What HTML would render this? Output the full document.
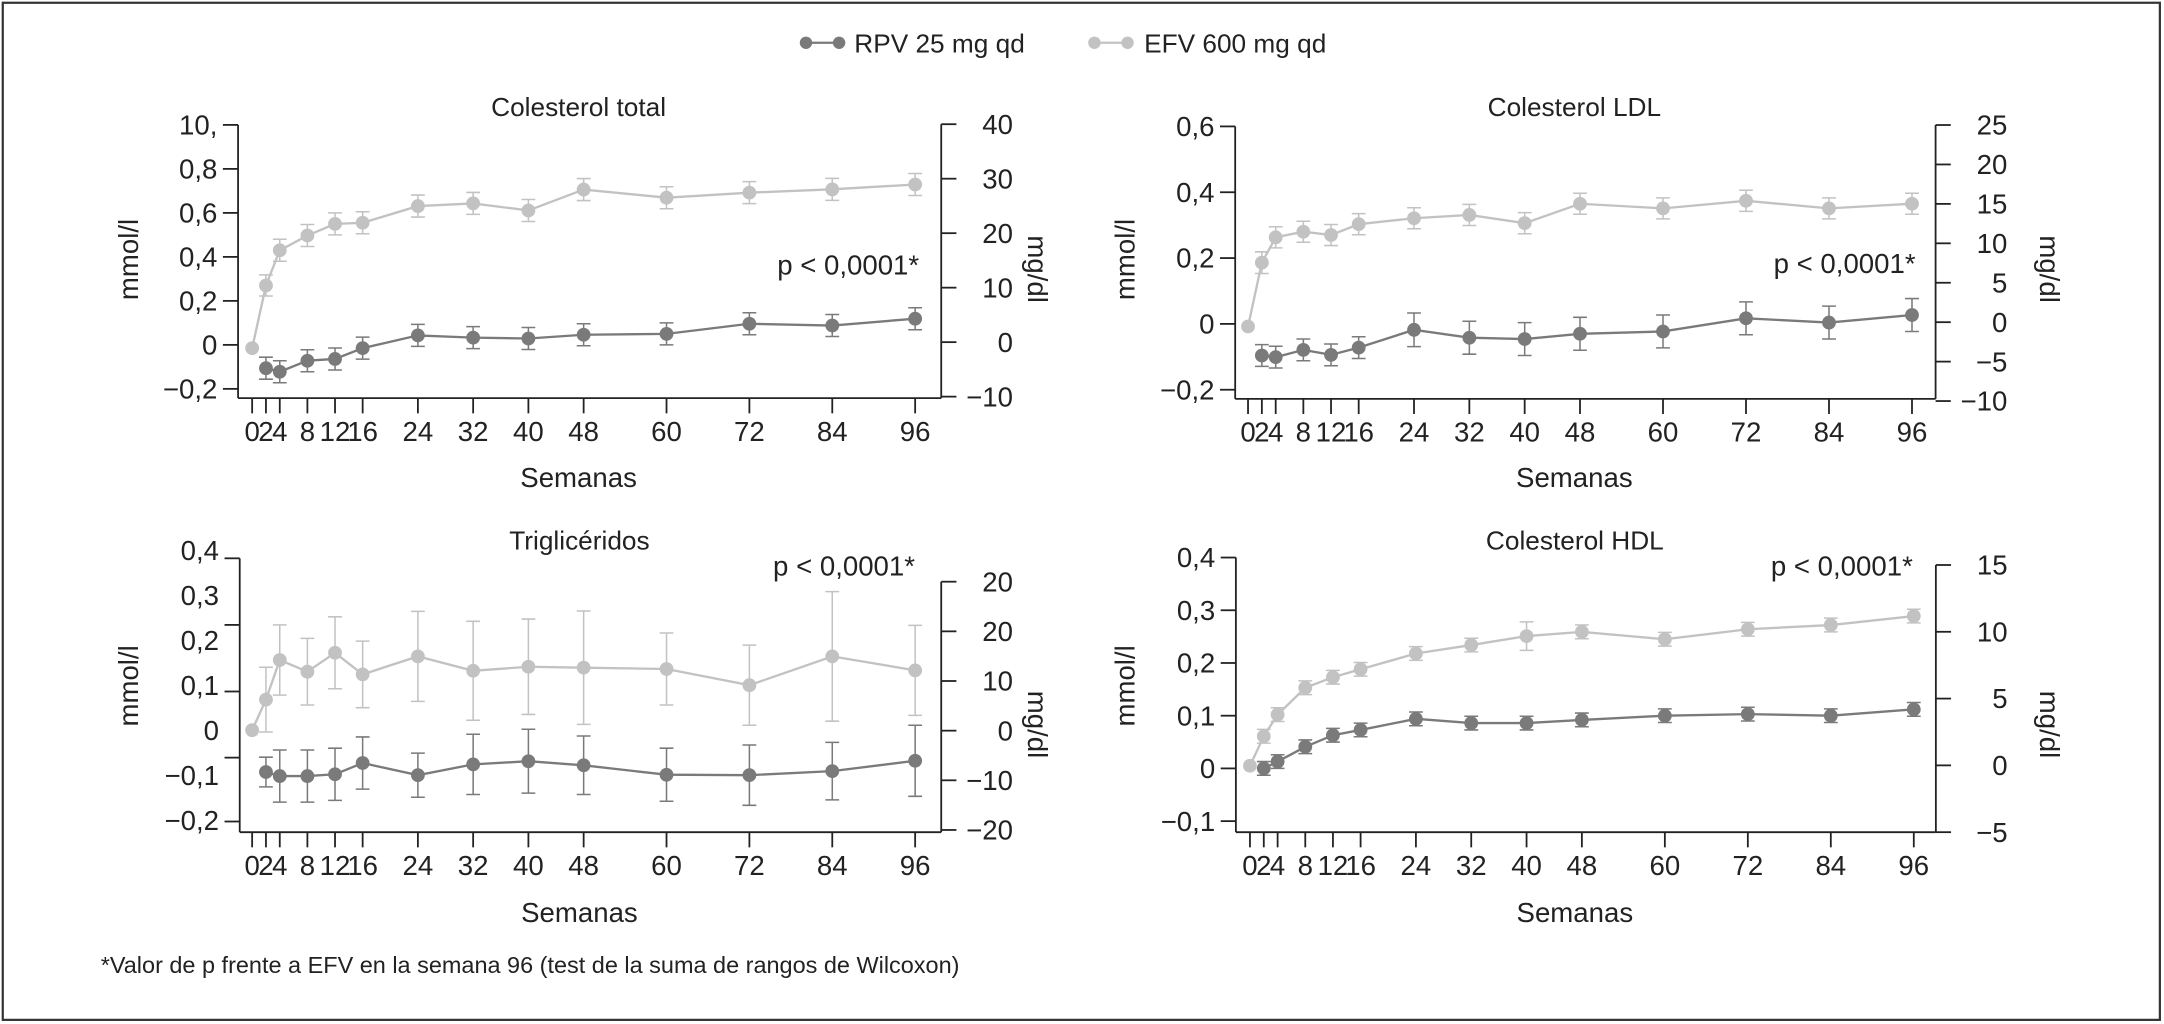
<!DOCTYPE html>
<html><head><meta charset="utf-8"><style>
html,body{margin:0;padding:0;background:#fff;}
svg{display:block;font-family:"Liberation Sans Narrow","Liberation Sans",sans-serif;}
</style></head><body>
<svg id="chart" width="2164" height="1024" viewBox="0 0 1568 742" preserveAspectRatio="none" xmlns="http://www.w3.org/2000/svg">
<rect x="2" y="2" width="1563" height="737" fill="#fff" stroke="#333" stroke-width="1.6"/>
<g>
 <g>
  <line x1="584" y1="31" x2="608" y2="31" stroke="#7a7a7a" stroke-width="1.6"/>
  <circle cx="584" cy="31" r="4.5" fill="#7a7a7a"/><circle cx="608" cy="31" r="4.5" fill="#7a7a7a"/>
  <text x="619" y="38" font-size="19" fill="#222">RPV 25 mg qd</text>
 </g>
 <g>
  <line x1="793" y1="31" x2="817" y2="31" stroke="#c2c2c2" stroke-width="1.6"/>
  <circle cx="793" cy="31" r="4.5" fill="#c2c2c2"/><circle cx="817" cy="31" r="4.5" fill="#c2c2c2"/>
  <text x="829" y="38" font-size="19" fill="#222">EFV 600 mg qd</text>
 </g>
</g>
<text x="73" y="705" font-size="17" fill="#222">*Valor de p frente a EFV en la semana 96 (test de la suma de rangos de Wilcoxon)</text>
</svg>
<script>
const weeks = [0,2,4,8,12,16,24,32,40,48,60,72,84,96];
const weeksRPV = [2,4,8,12,16,24,32,40,48,60,72,84,96];
const weekTickLabels = ["0","2","4","8","12","16","24","32","40","48","60","72","84","96"];

const tcEFV = [-0.015,0.27,0.43,0.497,0.55,0.555,0.631,0.643,0.611,0.706,0.669,0.692,0.707,0.729];
const tcEFVerr = [0,0.048,0.05,0.05,0.05,0.05,0.05,0.05,0.05,0.05,0.05,0.05,0.05,0.05];
const tcRPV = [-0.106,-0.122,-0.072,-0.064,-0.015,0.043,0.033,0.029,0.046,0.05,0.096,0.088,0.119];
const tcRPVerr = [0.05,0.05,0.05,0.05,0.05,0.05,0.05,0.05,0.05,0.05,0.05,0.05,0.05];

const ldlEFV = [-0.008,0.186,0.263,0.28,0.27,0.303,0.321,0.331,0.306,0.365,0.351,0.374,0.351,0.365];
const ldlEFVerr = [0,0.033,0.032,0.032,0.032,0.032,0.032,0.032,0.032,0.032,0.032,0.032,0.032,0.032];
const ldlRPV = [-0.096,-0.101,-0.079,-0.094,-0.072,-0.018,-0.042,-0.046,-0.03,-0.023,0.017,0.004,0.027];
const ldlRPVerr = [0.033,0.033,0.033,0.033,0.033,0.051,0.05,0.05,0.05,0.05,0.05,0.05,0.05];

const tgEFV = [0,0.068,0.156,0.13,0.172,0.124,0.164,0.132,0.141,0.139,0.136,0.1,0.164,0.133];
const tgEFVerr = [0,0.072,0.078,0.074,0.08,0.074,0.1,0.11,0.106,0.126,0.08,0.089,0.144,0.1];
const tgRPV = [-0.093,-0.102,-0.102,-0.098,-0.073,-0.1,-0.076,-0.069,-0.078,-0.099,-0.1,-0.091,-0.068];
const tgRPVerr = [0.033,0.058,0.058,0.058,0.058,0.049,0.067,0.071,0.065,0.059,0.067,0.064,0.079];

const hdlEFV = [0.005,0.061,0.102,0.153,0.173,0.188,0.218,0.234,0.251,0.259,0.245,0.264,0.272,0.289];
const hdlEFVerr = [0,0.013,0.013,0.013,0.013,0.013,0.013,0.013,0.027,0.013,0.013,0.013,0.013,0.013];
const hdlRPV = [0,0.013,0.041,0.063,0.073,0.094,0.086,0.086,0.092,0.1,0.103,0.1,0.112];
const hdlRPVerr = [0.013,0.013,0.013,0.013,0.013,0.013,0.013,0.013,0.013,0.013,0.013,0.013,0.013];

const tcLeftVals = [1.0,0.8,0.6,0.4,0.2,0,-0.2];
const tcLeftLabels = ["10,","0,8","0,6","0,4","0,2","0","\u22120,2"];
const tcRightLabels = ["40","30","20","10","0","\u221210"];
const ldlLeftVals = [0.6,0.4,0.2,0,-0.2];
const ldlLeftLabels = ["0,6","0,4","0,2","0","\u22120,2"];
const ldlRightLabels = ["25","20","15","10","5","0","\u22125","\u221210"];
const tgLeftTickVals = [0.382,0.234,0.086,-0.061,-0.203];
const tgLeftVals = [0.4,0.3,0.2,0.1,0,-0.1,-0.2];
const tgLeftLabels = ["0,4","0,3","0,2","0,1","0","\u22120,1","\u22120,2"];
const tgRightLabels = ["20","20","10","0","\u221210","\u221220"];
const hdlLeftVals = [0.4,0.3,0.2,0.1,0,-0.1];
const hdlLeftLabels = ["0,4","0,3","0,2","0,1","0","\u22120,1"];
const hdlRightLabels = ["15","10","5","0","\u22125"];

const NS = "http://www.w3.org/2000/svg";
const svg = document.getElementById("chart");
const DARK = "#7a7a7a", LIGHT = "#c2c2c2", INK = "#222";

function mk(tag, attrs, parent){
  const e = document.createElementNS(NS, tag);
  for (const k in attrs) e.setAttribute(k, attrs[k]);
  parent.appendChild(e);
  return e;
}

const panels = [
 {id:"total-cholesterol", title:"Colesterol total", xL:172.5, xR:682, yBot:288.5, w0:182.7, w96:663.1, y0:249.9, k:159.4,
  leftTickVals:tcLeftVals, leftVals:tcLeftVals, leftLabels:tcLeftLabels, rightLabels:tcRightLabels, rTop:90, rBot:287.4,
  efv:tcEFV, efvErr:tcEFVerr, rpv:tcRPV, rpvErr:tcRPVerr, pX:666, pY:199, titleY:84, mgX:745, mgY:195, mmX:100, mmY:188, semY:353},
 {id:"ldl-cholesterol", title:"Colesterol LDL", xL:895, xR:1402.5, yBot:289, w0:904.3, w96:1385.4, y0:234.7, k:238.5,
  leftTickVals:ldlLeftVals, leftVals:ldlLeftVals, leftLabels:ldlLeftLabels, rightLabels:ldlRightLabels, rTop:90.6, rBot:290.6,
  efv:ldlEFV, efvErr:ldlEFVerr, rpv:ldlRPV, rpvErr:ldlRPVerr, pX:1388, pY:198, titleY:84, mgX:1478, mgY:195, mmX:822, mmY:188, semY:353},
 {id:"triglycerides", title:"Triglic\u00e9ridos", xL:173.7, xR:682, yBot:603, w0:182.7, w96:663.1, y0:529.1, k:326,
  leftTickVals:tgLeftTickVals, leftVals:tgLeftVals, leftLabels:tgLeftLabels, rightLabels:tgRightLabels, rTop:421.5, rBot:601.4,
  efv:tgEFV, efvErr:tgEFVerr, rpv:tgRPV, rpvErr:tgRPVerr, pX:663, pY:417, titleY:398, mgX:745, mgY:525, mmX:100, mmY:497, semY:668},
 {id:"hdl-cholesterol", title:"Colesterol HDL", xL:895.5, xR:1402.7, yBot:603, w0:905.7, w96:1386.7, y0:556.8, k:382,
  leftTickVals:hdlLeftVals, leftVals:hdlLeftVals, leftLabels:hdlLeftLabels, rightLabels:hdlRightLabels, rTop:409.4, rBot:603,
  efv:hdlEFV, efvErr:hdlEFVerr, rpv:hdlRPV, rpvErr:hdlRPVerr, pX:1386, pY:417, titleY:398, mgX:1478, mgY:525, mmX:822, mmY:497, semY:668}
];

panels.forEach(p => {
  const g = mk("g", {}, svg);
  
  
  const xs = w => p.w0 + (w / 96) * (p.w96 - p.w0);
  const ys = v => p.y0 - v * p.k;
  const leftTop = Math.min(...p.leftTickVals.map(ys));

  const t = mk("text", {x:(p.xL+p.xR)/2 - 8, y:p.titleY, "font-size":19, "text-anchor":"middle", fill:INK}, g);
  t.textContent = p.title;
  
  

  const la = mk("line", {x1:p.xL, y1:leftTop, x2:p.xL, y2:p.yBot, stroke:INK, "stroke-width":1.3}, g);
  
  
  const ra = mk("line", {x1:p.xR, y1:p.rTop, x2:p.xR, y2:p.yBot, stroke:INK, "stroke-width":1.3}, g);
  
  
  const xa = mk("line", {x1:p.xL, y1:p.yBot, x2:p.xR, y2:p.yBot, stroke:INK, "stroke-width":1.3}, g);
  
  

  p.leftTickVals.forEach(v => {
    const tk = mk("line", {x1:p.xL-11, y1:ys(v), x2:p.xL, y2:ys(v), stroke:INK, "stroke-width":1.3}, g);
    
    
  });
  p.leftVals.forEach((v, i) => {
    const tl = mk("text", {x:p.xL-15, y:ys(v)+7, "font-size":20, "text-anchor":"end", fill:INK}, g);
    tl.textContent = p.leftLabels[i];
    
    
  });
  const n = p.rightLabels.length;
  p.rightLabels.forEach((lab, i) => {
    const y = p.rTop + i * (p.rBot - p.rTop) / (n - 1);
    const tk = mk("line", {x1:p.xR, y1:y, x2:p.xR+11, y2:y, stroke:INK, "stroke-width":1.3}, g);
    
    
    const tl = mk("text", {x:p.xR+52, y:y+7, "font-size":20, "text-anchor":"end", fill:INK}, g);
    tl.textContent = lab;
    
    
  });
  weeks.forEach((w, i) => {
    const tk = mk("line", {x1:xs(w), y1:p.yBot, x2:xs(w), y2:p.yBot+11, stroke:INK, "stroke-width":1.3}, g);
    
    
    const tl = mk("text", {x:xs(w), y:p.yBot+31, "font-size":20, "text-anchor":"middle", fill:INK}, g);
    tl.textContent = weekTickLabels[i];
    
    
  });

  const sem = mk("text", {x:(p.xL+p.xR)/2 - 8, y:p.semY, "font-size":20, "text-anchor":"middle", fill:INK}, g);
  sem.textContent = "Semanas";
  
  
  const mm = mk("text", {x:p.mmX, y:p.mmY, "font-size":20, "text-anchor":"middle", fill:INK, transform:`rotate(-90 ${p.mmX} ${p.mmY})`}, g);
  mm.textContent = "mmol/l";
  
  
  const mg = mk("text", {x:p.mgX, y:p.mgY, "font-size":20, "text-anchor":"middle", fill:INK, transform:`rotate(90 ${p.mgX} ${p.mgY})`}, g);
  mg.textContent = "mg/dl";
  
  
  const pv = mk("text", {x:p.pX, y:p.pY, "font-size":20, "text-anchor":"end", fill:INK}, g);
  pv.textContent = "p < 0,0001*";
  
  

  function series(ws, vals, errs, color, name){
    const sg = mk("g", {}, g);
    
    
    vals.forEach((v, i) => {
      if (errs[i] > 0) {
        const x = xs(ws[i]), y1 = ys(v + errs[i]), y2 = ys(v - errs[i]);
        const eb = mk("path", {d:`M${x-5},${y1}H${x+5}M${x},${y1}V${y2}M${x-5},${y2}H${x+5}`, stroke:color, "stroke-width":1.1, fill:"none"}, sg);
        
        
      }
    });
    const pts = vals.map((v, i) => `${xs(ws[i])},${ys(v)}`).join(" ");
    const pl = mk("polyline", {points:pts, stroke:color, "stroke-width":1.7, fill:"none"}, sg);
    
    
    vals.forEach((v, i) => {
      const c = mk("circle", {cx:xs(ws[i]), cy:ys(v), r:5, fill:color}, sg);
      
      
    });
  }
  series(weeks, p.efv, p.efvErr, LIGHT, p.id + '-efv-series');
  series(weeksRPV, p.rpv, p.rpvErr, DARK, p.id + '-rpv-series');
});
</script>
</body></html>
